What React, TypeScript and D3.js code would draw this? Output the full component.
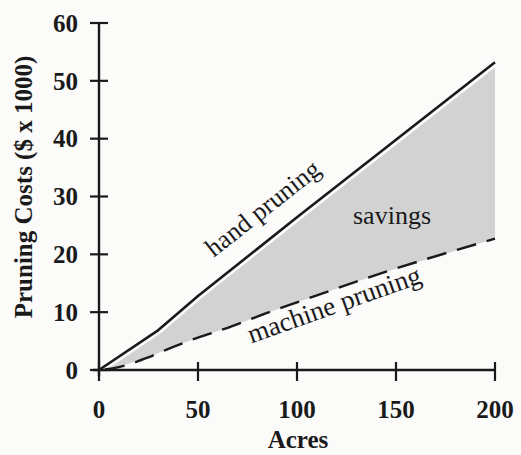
import React from "react";
import * as d3 from "d3";

const handAcres = [0, 30, 50, 100, 150, 175, 200];
const handCost = [0, 6.9, 12.8, 26.4, 39.8, 46.5, 53.2];
const machineAcres = [0, 10, 25, 36, 50, 65, 86, 100, 145, 200];
const machineCost = [0, 0.5, 2.2, 3.8, 5.6, 7.3, 10.0, 11.7, 17.0, 22.7];
const xTicks = [0, 50, 100, 150, 200];
const yTicks = [0, 10, 20, 30, 40, 50, 60];

const W = 521;
const H = 455;
const serif = "'Liberation Serif', 'Times New Roman', serif";
const ink = "#1a1a1a";

export default function App() {
  const x = d3.scaleLinear().domain([0, 200]).range([99, 495]);
  const y = d3.scaleLinear().domain([0, 60]).range([370, 23]);

  const hand: [number, number][] = handAcres.map((a, i) => [x(a), y(handCost[i])]);
  const machine: [number, number][] = machineAcres.map((a, i) => [x(a), y(machineCost[i])]);

  const line = d3.line();
  const smooth = d3.line().curve(d3.curveMonotoneX);
  const areaPts: [number, number][] = [...hand, ...machine.slice().reverse()];
  const areaPath = line(areaPts) + "Z";

  const handAngle = (Math.atan2(y(39.8) - y(12.8), x(150) - x(50)) * 180) / Math.PI;
  const machAngle = (Math.atan2(y(17.0) - y(7.3), x(145) - x(65)) * 180) / Math.PI;

  return (
    <svg
      width={W}
      height={H}
      style={{ position: "absolute", left: 0, top: 0, background: "#fbfbfa" }}
    >
      <path d={areaPath} fill="#d2d2d2" stroke="none" />
      <path d={line(hand) || ""} fill="none" stroke="#fbfbfa" strokeWidth={8} />
      <path d={line(hand) || ""} fill="none" stroke={ink} strokeWidth={2.6} strokeLinejoin="round" />
      <path
        d={smooth(machine) || ""}
        fill="none"
        stroke={ink}
        strokeWidth={2.4}
        strokeDasharray="20 11"
        strokeDashoffset={-6}
      />

      {/* axes */}
      <line x1={x(0)} x2={x(0)} y1={y(60)} y2={y(0) + 6} stroke={ink} strokeWidth={2.4} />
      <line x1={x(0) - 6} x2={x(200)} y1={y(0)} y2={y(0)} stroke={ink} strokeWidth={2.4} />
      {yTicks.map((t) => (
        <g key={"y" + t}>
          <line x1={x(0) - 9} x2={x(0) + 9} y1={y(t)} y2={y(t)} stroke={ink} strokeWidth={2.2} />
          <text
            x={78}
            y={y(t)}
            dy="0.35em"
            textAnchor="end"
            fontFamily={serif}
            fontWeight="bold"
            fontSize={25}
            fill={ink}
          >
            {t}
          </text>
        </g>
      ))}
      {xTicks.map((t) => (
        <g key={"x" + t}>
          <line x1={x(t)} x2={x(t)} y1={y(0) - 8} y2={y(0) + 11} stroke={ink} strokeWidth={2.2} />
          <text
            x={x(t)}
            y={418}
            textAnchor="middle"
            fontFamily={serif}
            fontWeight="bold"
            fontSize={25}
            fill={ink}
          >
            {t}
          </text>
        </g>
      ))}
      <text
        x={298}
        y={448}
        textAnchor="middle"
        fontFamily={serif}
        fontWeight="bold"
        fontSize={25}
        fill={ink}
      >
        Acres
      </text>
      <text
        transform={`translate(32,187) rotate(-90)`}
        textAnchor="middle"
        fontFamily={serif}
        fontWeight="bold"
        fontSize={25}
        fill={ink}
      >
        Pruning Costs ($ x 1000)
      </text>

      {/* annotations */}
      <text
        transform={`translate(268,215) rotate(${handAngle})`}
        textAnchor="middle"
        fontFamily={serif}
        fontSize={26}
        fill={ink}
      >
        hand pruning
      </text>
      <text
        x={392}
        y={224}
        textAnchor="middle"
        fontFamily={serif}
        fontSize={26}
        fill={ink}
      >
        savings
      </text>
      <text
        transform={`translate(337,313) rotate(${machAngle})`}
        textAnchor="middle"
        fontFamily={serif}
        fontSize={27}
        fill={ink}
      >
        machine pruning
      </text>
    </svg>
  );
}
